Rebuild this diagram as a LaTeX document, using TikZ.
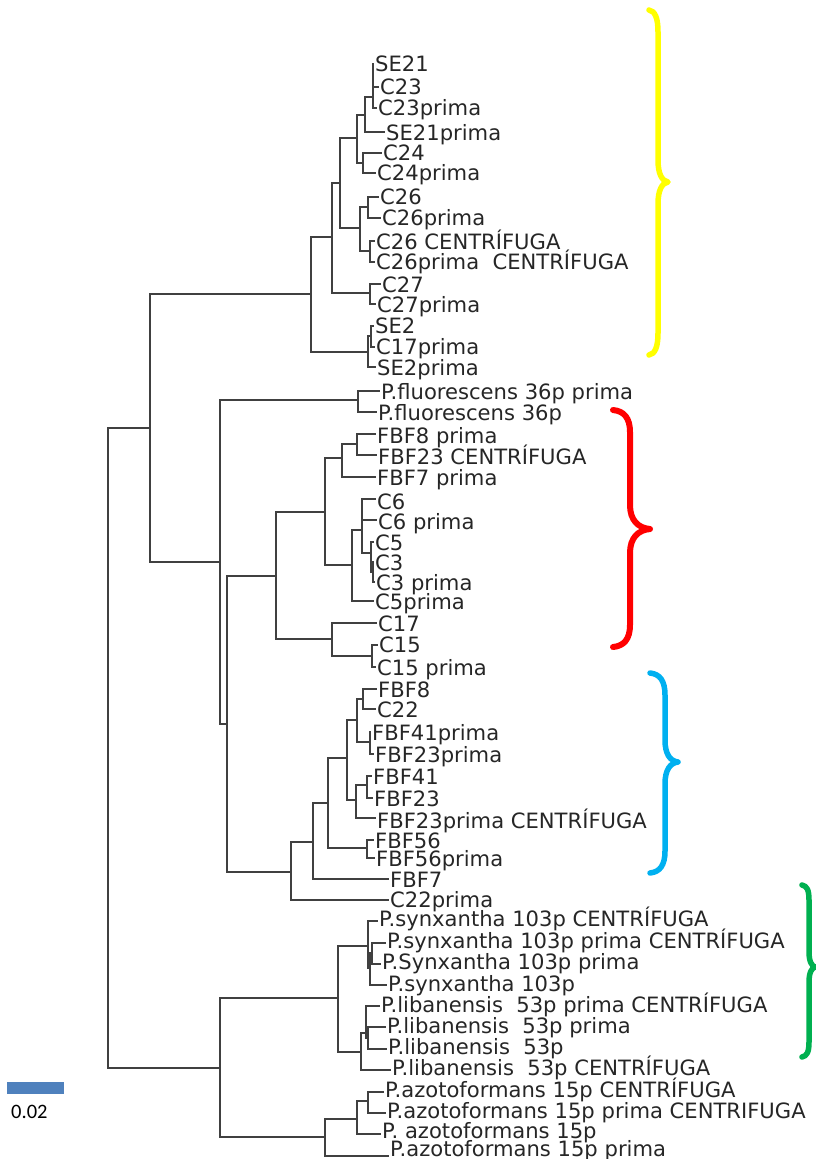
\documentclass[tikz,border=0pt]{standalone}
\usepackage{fontspec}
\newfontfamily\treefont{DejaVu Sans}
\newfontfamily\barfont{Carlito}
\definecolor{brc}{RGB}{64,64,64}
\definecolor{txc}{RGB}{38,38,38}
\definecolor{yel}{RGB}{255,255,0}
\definecolor{redb}{RGB}{255,0,0}
\definecolor{blub}{RGB}{0,176,240}
\definecolor{grnb}{RGB}{0,176,80}
\definecolor{sbc}{RGB}{79,129,189}
\newcommand{\leafnode}[6]{%
  \coordinate (t#1) at ({#4-1},#3);
  \node[lab] (n#1) at (#4,#5) {#6};
  \draw[br] (#2) |- (t#1);}
\begin{document}
\begin{tikzpicture}[x=1pt,y=-1pt,
  br/.style={draw=brc,line width=2.2pt},
  lab/.style={anchor=west,inner sep=0pt,text height=15pt,text depth=0pt,font=\treefont\fontsize{21.1}{24}\selectfont,text=txc},
  brace/.style={line width=5.5pt,line cap=round,line join=round}]
\useasboundingbox (0,0) rectangle (815,1159);
% internal nodes
\coordinate (R) at (108,748);
\coordinate (A) at (150,428);
\coordinate (Y) at (311,294);
\coordinate (Y1) at (332,237);
\coordinate (Y2) at (340,183);
\coordinate (Y3) at (357,138);
\coordinate (Y4) at (365,115);
\coordinate (Ysa) at (373,97);
\coordinate (C24g) at (363,163);
\coordinate (C26a) at (360,228);
\coordinate (C26g) at (368,207);
\coordinate (C26c) at (370,251);
\coordinate (C27g) at (370,293);
\coordinate (SE2g) at (368,352);
\coordinate (SE2s) at (371,336);
\coordinate (B) at (220,562);
\coordinate (PF) at (358,400);
\coordinate (Q) at (227,724);
\coordinate (Cr) at (276,576);
\coordinate (D) at (325,512);
\coordinate (E) at (342,458);
\coordinate (F) at (357,444);
\coordinate (G) at (352,565);
\coordinate (H) at (362,530);
\coordinate (I) at (371,553);
\coordinate (I2) at (373,572);
\coordinate (J) at (332,639);
\coordinate (K) at (372,656);
\coordinate (Bl) at (291,872);
\coordinate (Bl1) at (313,842);
\coordinate (Bl2) at (328,803);
\coordinate (Bl3) at (347,758);
\coordinate (Bl4) at (357,720);
\coordinate (FBF8g) at (363,699);
\coordinate (FBF41pg) at (370,742);
\coordinate (Bl5) at (356,800);
\coordinate (FBF41g) at (367,785);
\coordinate (FBF56g) at (367,848);
\coordinate (L) at (220,1068);
\coordinate (M) at (338,998);
\coordinate (Sy) at (368,946);
\coordinate (Sy2) at (370,968);
\coordinate (Sys) at (372,953);
\coordinate (Li) at (361,1052);
\coordinate (Lis) at (366,1033);
\coordinate (Lis2) at (368,1038);
\coordinate (Az) at (325,1137);
\coordinate (Az1) at (357,1119);
\coordinate (Az2) at (368,1101);
% internal edges
\draw[br] (R) |- (A);  \draw[br] (R) |- (L);
\draw[br] (A) |- (Y);  \draw[br] (A) |- (B);
\draw[br] (Y) |- (Y1); \draw[br] (Y) |- (SE2g);
\draw[br] (Y1) |- (Y2); \draw[br] (Y1) |- (C27g);
\draw[br] (Y2) |- (Y3); \draw[br] (Y2) |- (C26a);
\draw[br] (Y3) |- (Y4); \draw[br] (Y3) |- (C24g);
\draw[br] (Y4) |- (Ysa);
\draw[br] (C26a) |- (C26g); \draw[br] (C26a) |- (C26c);
\draw[br] (SE2g) |- (SE2s);
\draw[br] (B) |- (PF); \draw[br] (B) |- (Q);
\draw[br] (Q) |- (Cr); \draw[br] (Q) |- (Bl);
\draw[br] (Cr) |- (D); \draw[br] (Cr) |- (J);
\draw[br] (D) |- (E); \draw[br] (D) |- (G);
\draw[br] (E) |- (F);
\draw[br] (G) |- (H);
\draw[br] (H) |- (I);
\draw[br] (I) |- (I2);
\draw[br] (J) |- (K);
\draw[br] (Bl) |- (Bl1);
\draw[br] (Bl1) |- (Bl2);
\draw[br] (Bl2) |- (Bl3); \draw[br] (Bl2) |- (FBF56g);
\draw[br] (Bl3) |- (Bl4); \draw[br] (Bl3) |- (Bl5);
\draw[br] (Bl4) |- (FBF8g); \draw[br] (Bl4) |- (FBF41pg);
\draw[br] (Bl5) |- (FBF41g);
\draw[br] (L) |- (M); \draw[br] (L) |- (Az);
\draw[br] (M) |- (Sy); \draw[br] (M) |- (Li);
\draw[br] (Sy) |- (Sy2); \draw[br] (Sy2) |- (Sys);
\draw[br] (Li) |- (Lis); \draw[br] (Lis) |- (Lis2);
\draw[br] (Az) |- (Az1); \draw[br] (Az1) |- (Az2);
% leaves
\leafnode{1}{Ysa}{64}{375}{64}{SE21}
\leafnode{2}{Ysa}{87}{380}{87}{C23}
\leafnode{3}{Ysa}{108}{378}{108}{C23prima}
\leafnode{4}{Y4}{132}{386}{133}{SE21prima}
\leafnode{5}{C24g}{153}{383}{153}{C24}
\leafnode{6}{C24g}{173}{377}{173}{C24prima}
\leafnode{7}{C26g}{197}{380}{197}{C26}
\leafnode{8}{C26g}{218}{382}{218}{C26prima}
\leafnode{9}{C26c}{241}{376}{242}{C26 CENTRÍFUGA}
\leafnode{10}{C26c}{262}{376}{262}{C26prima~~CENTRÍFUGA}
\leafnode{11}{C27g}{284}{382}{285}{C27}
\leafnode{12}{C27g}{304}{377}{305}{C27prima}
\leafnode{13}{SE2s}{326}{375}{326}{SE2}
\leafnode{14}{SE2s}{347}{376}{347}{C17prima}
\leafnode{15}{SE2g}{367}{377}{368}{SE2prima}
\leafnode{16}{PF}{391}{381}{392}{P.fluorescens 36p prima}
\leafnode{17}{PF}{412}{378}{413}{P.fluorescens 36p}
\leafnode{18}{F}{434}{377}{436}{FBF8 prima}
\leafnode{19}{F}{455}{378}{457}{FBF23 CENTRÍFUGA}
\leafnode{20}{E}{477}{377}{478}{FBF7 prima}
\leafnode{21}{H}{499}{377}{502}{C6}
\leafnode{22}{H}{520}{378}{522}{C6 prima}
\leafnode{23}{I}{542}{375}{543}{C5}
\leafnode{24}{I2}{562}{375}{563}{C3}
\leafnode{25}{I2}{582}{376}{583}{C3 prima}
\leafnode{26}{G}{601}{375}{602}{C5prima}
\leafnode{27}{J}{623}{378}{624}{C17}
\leafnode{28}{K}{645}{379}{645}{C15}
\leafnode{29}{K}{667}{377}{668}{C15 prima}
\leafnode{30}{FBF8g}{689}{378}{690}{FBF8}
\leafnode{31}{FBF8g}{709}{377}{710}{C22}
\leafnode{32}{FBF41pg}{732}{372}{733}{FBF41prima}
\leafnode{33}{FBF41pg}{754}{375}{755}{FBF23prima}
\leafnode{34}{FBF41g}{776}{373}{777}{FBF41}
\leafnode{35}{FBF41g}{798}{374}{799}{FBF23}
\leafnode{36}{Bl5}{818}{377}{821}{FBF23prima CENTRÍFUGA}
\leafnode{37}{FBF56g}{840}{375}{841}{FBF56}
\leafnode{38}{FBF56g}{858}{376}{859}{FBF56prima}
\leafnode{39}{Bl1}{879}{390}{880}{FBF7}
\leafnode{40}{Bl}{900}{390}{900}{C22prima}
\leafnode{41}{Sy}{921}{379}{919}{P.synxantha 103p CENTRÍFUGA}
\leafnode{42}{Sys}{943}{387}{941}{P.synxantha 103p prima CENTRÍFUGA}
\leafnode{43}{Sys}{964}{382}{962}{P.Synxantha 103p prima}
\leafnode{44}{Sy2}{985}{388}{984}{P.synxantha 103p}
\leafnode{45}{Lis}{1006}{381}{1005}{P.libanensis~~53p prima CENTRÍFUGA}
\leafnode{46}{Lis2}{1027}{387}{1026}{P.libanensis~~53p prima}
\leafnode{47}{Lis2}{1049}{388}{1047}{P.libanensis~~53p}
\leafnode{48}{Li}{1070}{392}{1068}{P.libanensis~~53p CENTRÍFUGA}
\leafnode{49}{Az2}{1092}{385}{1090}{P.azotoformans 15p CENTRÍFUGA}
\leafnode{50}{Az2}{1113}{387}{1111}{P.azotoformans 15p prima CENTRIFUGA}
\leafnode{51}{Az1}{1134}{382}{1131}{P. azotoformans 15p}
\leafnode{52}{Az}{1156}{390}{1149}{P.azotoformans 15p prima}
% braces
\draw[brace,draw=yel] (649,10) .. controls (655,11) and (658,18) .. (658,32) -- (658,160) .. controls (658,174) and (662,181) .. (668,182) .. controls (662,183) and (658,190) .. (658,204) -- (658,333) .. controls (658,347) and (655,354) .. (649,355);
\draw[brace,draw=redb,line width=6pt] (613,410) .. controls (624,411) and (630,418) .. (630,432) -- (630,505) .. controls (630,520) and (638,528) .. (650,529) .. controls (638,530) and (630,538) .. (630,553) -- (630,625) .. controls (630,639) and (624,646) .. (613,647);
\draw[brace,draw=blub] (650,673) .. controls (660,674) and (665,681) .. (665,695) -- (665,740) .. controls (665,754) and (670,761) .. (678,762) .. controls (670,763) and (665,770) .. (665,784) -- (665,851) .. controls (665,865) and (660,872) .. (650,873);
\draw[brace,draw=grnb] (802,885) .. controls (807,886) and (809,890) .. (809,900) -- (809,952) .. controls (809,962) and (812,966) .. (815,967) .. controls (812,968) and (809,972) .. (809,982) -- (809,1042) .. controls (809,1052) and (807,1056) .. (802,1057);
% scale bar
\node[fill=sbc,minimum width=57pt,minimum height=12pt,inner sep=0pt,anchor=north west] (sbar) at (7,1082) {};
\node[anchor=west,inner sep=0pt,font=\barfont\fontsize{20.5}{24}\selectfont] (sblab) at (11,1112) {0.02};
\end{tikzpicture}
\end{document}
